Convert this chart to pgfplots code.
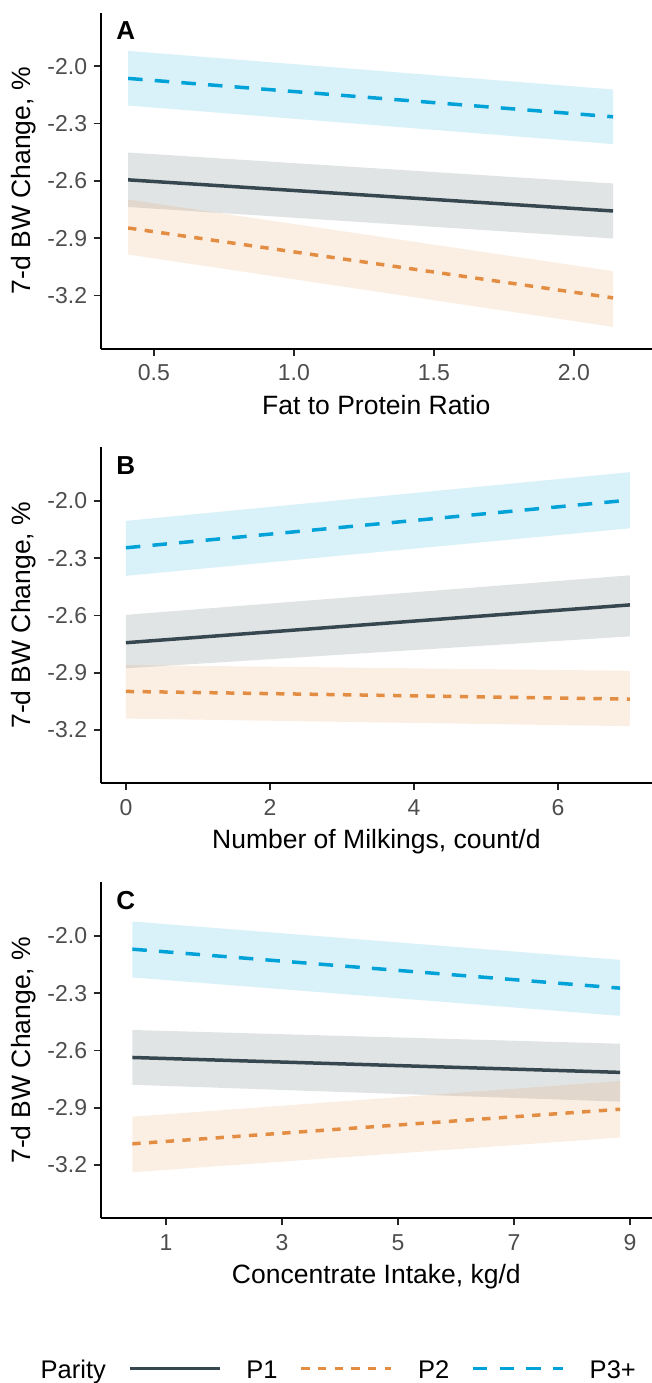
\documentclass[border=0pt]{standalone}
\usepackage{fontspec}
\setmainfont{Liberation Sans}
\usepackage{pgfplots}
\pgfplotsset{compat=1.18}
\definecolor{cPone}{RGB}{55,71,79}
\definecolor{cPtwo}{RGB}{227,141,67}
\definecolor{cPthree}{RGB}{0,162,215}
\definecolor{tickgray}{RGB}{77,77,77}
\tikzset{letter/.style={anchor=base west, inner sep=0pt, font=\fontsize{26}{30}\selectfont\bfseries}}
\pgfplotsset{
 panel/.style={
  scale only axis, width=551.3pt, height=336pt,
  axis x line*=bottom, axis y line*=left,
  axis line style={-, line width=2pt, black},
  tick align=outside, major tick length=7pt,
  tick style={line width=1.6pt, black!85},
  ymin=-3.479, ymax=-1.72,
  ytick={-3.2,-2.9,-2.6,-2.3,-2.0},
  yticklabels={-3.2,-2.9,-2.6,-2.3,-2.0},
  ticklabel style={font=\fontsize{23}{27}\selectfont, text=tickgray, inner sep=0pt},
  xticklabel style={yshift=-9pt},
  yticklabel style={xshift=-6.4pt},
  ylabel={7-d BW Change, \%},
  ylabel style={font=\fontsize{26.5}{31}\selectfont, at={(axis description cs:-0.1404,0.5)}, anchor=center, inner sep=0pt},
  xlabel style={font=\fontsize{26.5}{31}\selectfont, at={(axis description cs:0.5,0)}, anchor=north, yshift=-46pt, inner sep=0pt},
 },
 p1/.style={cPone, line width=3.5pt},
 p2/.style={cPtwo, line width=3.5pt, dash pattern=on 8.3pt off 8.4pt},
 p3/.style={cPthree, line width=3.5pt, dash pattern=on 14.5pt off 12.2pt},
 band/.style={draw=none, fill=#1, fill opacity=0.15, forget plot},
}
\begin{document}
\begin{tikzpicture}
\useasboundingbox (0pt,0pt) rectangle (652pt,-1383pt);
% ---------------- Panel A
\begin{axis}[panel, at={(100.7pt,-348.7pt)}, anchor=south west,
  xmin=0.31, xmax=2.279, xtick={0.5,1.0,1.5,2.0}, xticklabels={0.5,1.0,1.5,2.0},
  xlabel={Fat to Protein Ratio}]
\addplot[band=cPone] coordinates {(0.408,-2.737) (2.14,-2.902) (2.14,-2.614) (0.408,-2.452)};
\addplot[band=cPtwo] coordinates {(0.408,-2.986) (2.14,-3.365) (2.14,-3.073) (0.408,-2.698)};
\addplot[band=cPthree] coordinates {(0.408,-2.206) (2.14,-2.408) (2.14,-2.122) (0.408,-1.920)};
\addplot[p1] coordinates {(0.408,-2.595) (2.14,-2.758)};
\addplot[p2] coordinates {(0.408,-2.847) (2.14,-3.213)};
\addplot[p3] coordinates {(0.408,-2.064) (2.14,-2.265)};
\node[letter] at (rel axis cs:0.028,0.92) {A};
\end{axis}
% ---------------- Panel B
\begin{axis}[panel, at={(100.7pt,-783.3pt)}, anchor=south west,
  xmin=-0.35, xmax=7.307, xtick={0,2,4,6}, xticklabels={0,2,4,6},
  xlabel={Number of Milkings, count/d}]
\addplot[band=cPone] coordinates {(0,-2.877) (7,-2.710) (7,-2.390) (0,-2.597)};
\addplot[band=cPtwo] coordinates {(0,-3.140) (7,-3.180) (7,-2.890) (0,-2.860)};
\addplot[band=cPthree] coordinates {(0,-2.393) (7,-2.144) (7,-1.850) (0,-2.105)};
\addplot[p1] coordinates {(0,-2.743) (7,-2.545)};
\addplot[p2] coordinates {(0,-2.998) (7,-3.038)};
\addplot[p3] coordinates {(0,-2.246) (7,-1.996)};
\node[letter] at (rel axis cs:0.028,0.92) {B};
\end{axis}
% ---------------- Panel C
\begin{axis}[panel, at={(100.7pt,-1218.3pt)}, anchor=south west,
  xmin=-0.126, xmax=9.38, xtick={1,3,5,7,9}, xticklabels={1,3,5,7,9},
  xlabel={Concentrate Intake, kg/d},
  legend style={at={(axis description cs:-0.1542,-0.4464)}, anchor=west,
    draw=none, fill=none, inner sep=0pt, outer sep=0pt, legend columns=4,
    font=\fontsize{25.5}{30}\selectfont,
    nodes={inner sep=0pt, text height=20pt, text depth=0pt},
    /tikz/every odd column/.style={column sep=25pt},
    /tikz/every even column/.style={column sep=22pt}},
  legend cell align=left,
  legend image code/.code={\draw[#1] (0pt,0pt) -- (90pt,0pt);}]
\addlegendimage{empty legend}
\addlegendentry{Parity}
\addplot[band=cPone] coordinates {(0.42,-2.780) (8.83,-2.868) (8.83,-2.565) (0.42,-2.493)};
\addplot[band=cPtwo] coordinates {(0.42,-3.238) (8.83,-3.056) (8.83,-2.760) (0.42,-2.947)};
\addplot[band=cPthree] coordinates {(0.42,-2.218) (8.83,-2.419) (8.83,-2.126) (0.42,-1.925)};
\addplot[p1] coordinates {(0.42,-2.637) (8.83,-2.715)};
\addlegendentry{P1}
\addplot[p2] coordinates {(0.42,-3.089) (8.83,-2.908)};
\addlegendentry{P2}
\addplot[p3] coordinates {(0.42,-2.070) (8.83,-2.274)};
\addlegendentry{P3+}
\node[letter] at (rel axis cs:0.028,0.92) {C};
\end{axis}
\end{tikzpicture}
\end{document}
